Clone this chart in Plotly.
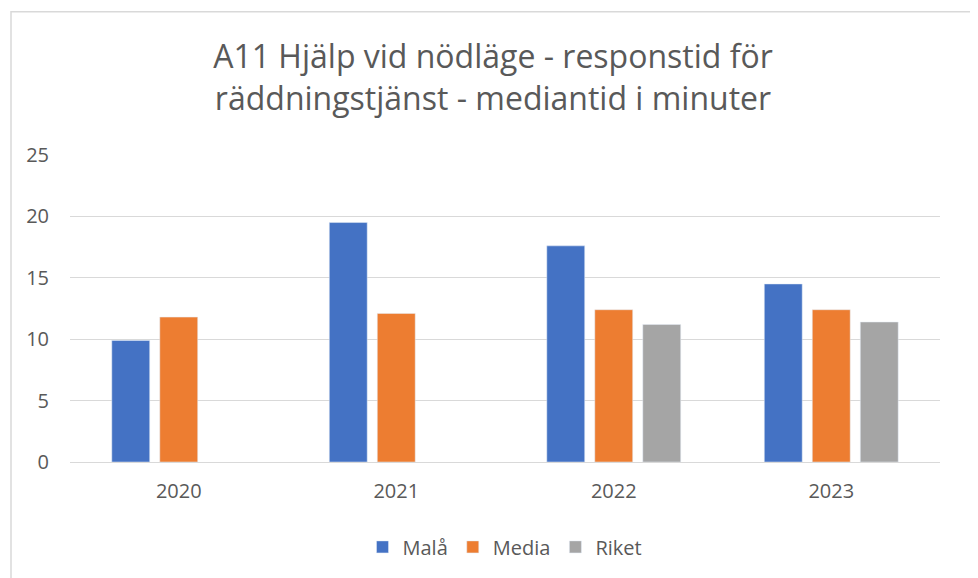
import plotly.graph_objects as go

years = ["2020", "2021", "2022", "2023"]
mala = [9.9, 19.5, 17.6, 14.5]
media = [11.8, 12.1, 12.4, 12.4]
riket = [None, None, 11.2, 11.4]
y_ticks = [0, 5, 10, 15, 20, 25]

FONT = "Open Sans"
GRAY = "#595959"

fig = go.Figure()
fig.add_trace(go.Bar(name="Malå", x=years, y=mala, marker_color="#4472C4"))
fig.add_trace(go.Bar(name="Media", x=years, y=media, marker_color="#ED7D31"))
fig.add_trace(go.Bar(name="Riket", x=years, y=riket, marker_color="#A5A5A5"))

# page body has an 8px margin; work in figure coordinates
OFF = 8
W, H = 978 - OFF, 578 - OFF
L, T = 70 - OFF, 155 - OFF
R = W - (940 - OFF)
B = H - (466 - OFF)
pw, ph = W - L - R, H - T - B

def px(x):
    return (x - OFF - L) / pw

def py(y):
    return (H - B - (y - OFF)) / ph

fig.update_layout(
    width=W, height=H,
    margin=dict(l=L, r=R, t=T, b=B),
    paper_bgcolor="white", plot_bgcolor="white",
    barmode="group", bargap=0.338, bargroupgap=0.21,
    title=dict(
        text="A11 Hjälp vid nödläge - responstid för<br>räddningstjänst - mediantid i minuter",
        x=0.5, xanchor="center", y=1 - (68 - OFF) / H, yanchor="middle",
        font=dict(family=FONT, size=32, color=GRAY),
    ),
    font=dict(family=FONT, color=GRAY, size=20),
    legend=dict(orientation="h", x=0.5, xanchor="center", y=py(552), yanchor="middle",
                font=dict(size=20, color=GRAY), traceorder="normal"),
    xaxis=dict(showgrid=False, showline=True, linecolor="#D9D9D9", linewidth=1,
               tickfont=dict(size=20, color=GRAY), ticks="", ticklabelstandoff=11),
    yaxis=dict(range=[0, 25], tickvals=y_ticks, showgrid=True, gridcolor="#D9D9D9",
               gridwidth=1, zeroline=False, showline=False,
               tickfont=dict(size=20, color=GRAY), ticklabelstandoff=20),
    shapes=[dict(type="rect", xref="paper", yref="paper",
                 x0=px(11), x1=px(971), y0=py(600), y1=py(10),
                 line=dict(color="#D9D9D9", width=1.5), fillcolor="rgba(0,0,0,0)", layer="below")],
)

fig.write_html("out.html")
